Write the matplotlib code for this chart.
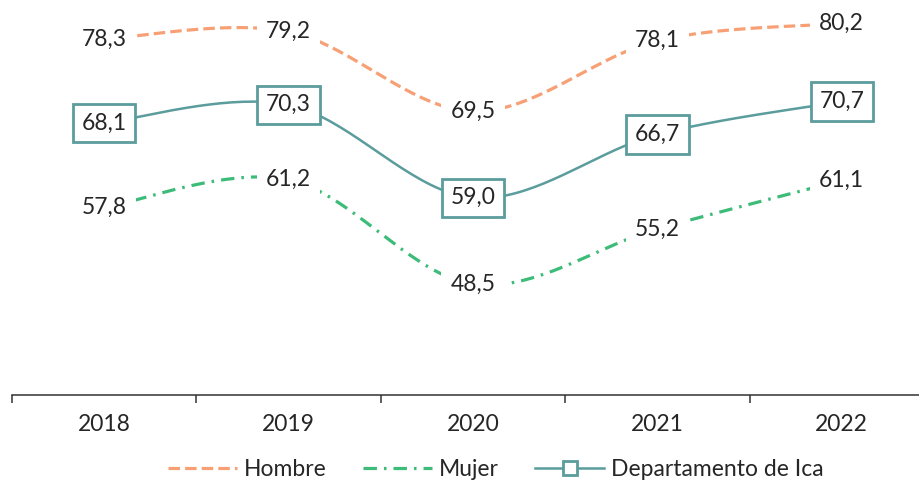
import matplotlib
matplotlib.use('Agg')
import matplotlib.pyplot as plt
import numpy as np

# datos
years = ["2018", "2019", "2020", "2021", "2022"]
hombre = [78.3, 79.2, 69.5, 78.1, 80.2]
mujer = [57.8, 61.2, 48.5, 55.2, 61.1]
ica = [68.1, 70.3, 59.0, 66.7, 70.7]

plt.rcParams['font.family'] = ['Lato', 'DejaVu Sans']
TXT = '#262626'
C_H = '#F7A076'
C_M = '#3DBB78'
C_I = '#5B9C9C'
FS = 16.5


def suavizar(xs, ys, n=40):
    # curva tipo Excel (Catmull-Rom -> Bezier)
    p = np.column_stack([xs, ys]).astype(float)
    ext = np.vstack([p[0], p, p[-1]])
    out = []
    t = np.linspace(0, 1, n)[:, None]
    for i in range(len(p) - 1):
        p0, p1, p2, p3 = ext[i], ext[i + 1], ext[i + 2], ext[i + 3]
        c1 = p1 + (p2 - p0) / 6
        c2 = p2 - (p3 - p1) / 6
        seg = ((1 - t) ** 3) * p1 + 3 * ((1 - t) ** 2) * t * c1 + 3 * (1 - t) * t ** 2 * c2 + t ** 3 * p2
        out.append(seg if i == 0 else seg[1:])
    out = np.vstack(out)
    return out[:, 0], out[:, 1]


fig = plt.figure(figsize=(9.2, 4.84), dpi=100)
ax = fig.add_axes([12 / 920, (484 - 395) / 484, 922 / 920, 411 / 484])
x = np.arange(len(years))

sx, sy = suavizar(x, hombre)
ax.plot(sx, sy, color=C_H, lw=2.3, dashes=[3.6, 1.6], label='Hombre', zorder=2)
sx, sy = suavizar(x, mujer)
ax.plot(sx, sy, color=C_M, lw=2.3, dashes=[4.2, 2.2, 0.8, 2.2], label='Mujer', zorder=2)
sx, sy = suavizar(x, ica)
ax.plot(sx, sy, color=C_I, lw=1.8, zorder=2)

# entrada de leyenda para Ica
ax.plot([], [], color=C_I, lw=1.8, marker='s', ms=10, mfc='white', mec=C_I, mew=2,
        label='Departamento de Ica')

for xi, v in zip(x, hombre):
    ax.text(xi, v, f"{v:.1f}".replace('.', ','), ha='center', va='center', fontsize=FS, color=TXT,
            bbox=dict(boxstyle='square,pad=0.4', fc='white', ec='none'), zorder=4)
for xi, v in zip(x, mujer):
    ax.text(xi, v, f"{v:.1f}".replace('.', ','), ha='center', va='center', fontsize=FS, color=TXT,
            bbox=dict(boxstyle='square,pad=0.4', fc='white', ec='none'), zorder=4)
for xi, v in zip(x, ica):
    ax.text(xi, v, f"{v:.1f}".replace('.', ','), ha='center', va='center', fontsize=FS, color=TXT,
            bbox=dict(boxstyle='square,pad=0.38', fc='white', ec=C_I, lw=2), zorder=5)

ax.set_xlim(-0.5, 4.5)
ax.set_ylim(35, 85)
ax.set_yticks([])
for s in ['left', 'right', 'top']:
    ax.spines[s].set_visible(False)
ax.spines['bottom'].set_color('#333333')
ax.spines['bottom'].set_linewidth(1.1)

ax.set_xticks(np.arange(-0.5, 5, 1))
ax.set_xticklabels([])
ax.tick_params(axis='x', which='major', length=6, width=1.1, color='#333333', direction='out')
ax.set_xticks(x, minor=True)
ax.set_xticklabels(years, minor=True, fontsize=FS, color=TXT)
ax.tick_params(axis='x', which='minor', length=0, pad=14)

fig.legend(loc='center', bbox_to_anchor=(496 / 920, 1 - 470 / 484), ncol=3, frameon=False,
           fontsize=FS, handlelength=3.0, columnspacing=1.6, handletextpad=0.3, labelcolor=TXT)

plt.savefig('out.png', dpi=100)
